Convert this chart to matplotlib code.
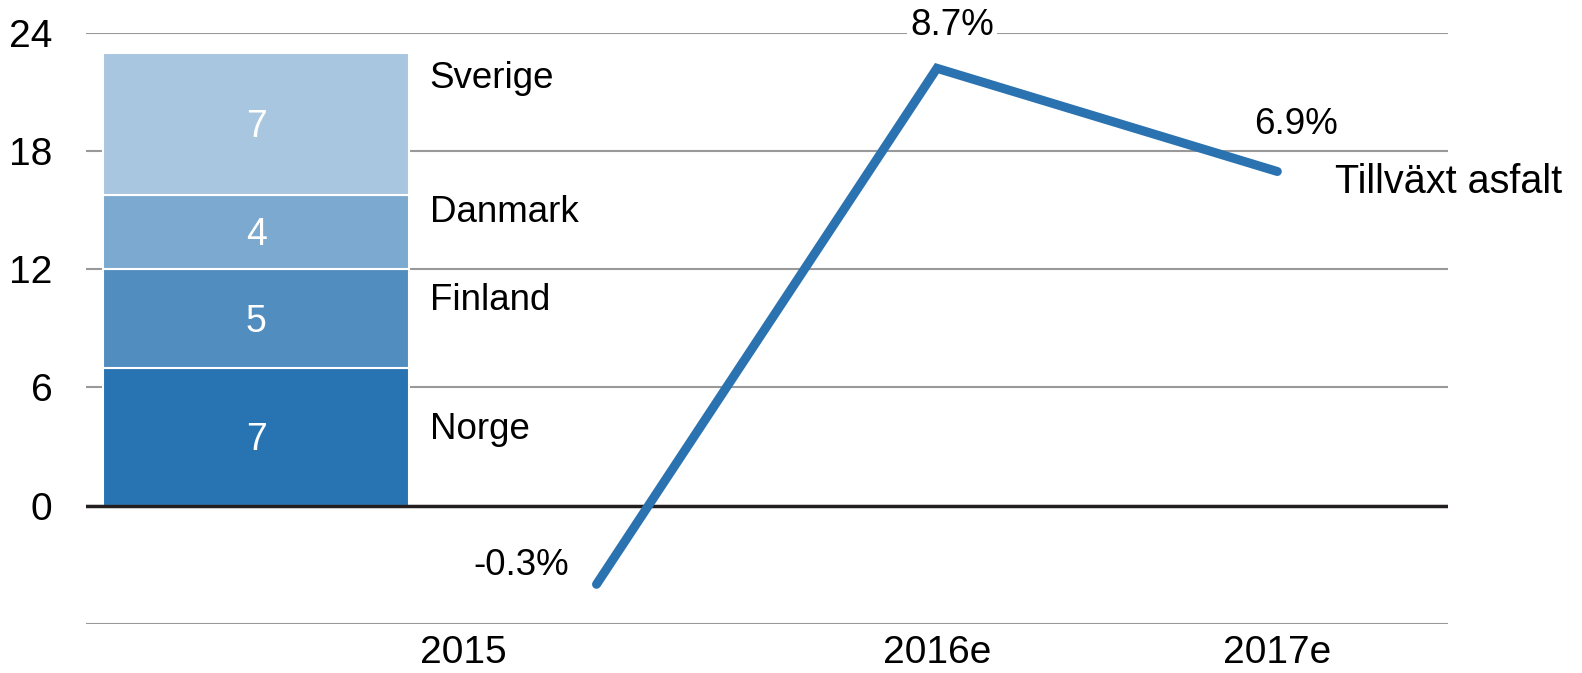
import numpy as np
import matplotlib.pyplot as plt

plt.rcParams['font.family'] = ['Liberation Sans', 'DejaVu Sans']

# data
countries = ['Norge', 'Finland', 'Danmark', 'Sverige']
volumes = [7.0, 5.0, 3.8, 7.2]
bar_colors = ['#2873b2', '#528dc0', '#7ba9d0', '#a8c6df']
years = ['2015', '2016e', '2017e']
growth = [-0.3, 8.7, 6.9]
series_name = 'Tillväxt asfalt'

fig = plt.figure(figsize=(15.82, 6.73), dpi=100)
ax = fig.add_axes([0.0543, 0.0734, 0.8607, 0.8771])

# stacked bar at x=0
bottom = 0
for name, v, c in zip(countries, volumes, bar_colors):
    ax.bar(0, v, bottom=bottom, width=0.9, color=c, edgecolor='white', linewidth=1.5, zorder=3)
    ax.text(0, bottom + v / 2 - 0.15, f'{v:.0f}', ha='center', va='center', color='white', fontsize=27, zorder=4)
    bottom += v

# country labels right of the bar
name_y = [3.85, 10.4, 14.9, 21.7]
for name, y in zip(countries, name_y):
    ax.text(0.51, y, name, ha='left', va='center', fontsize=26.5)

ax.set_xlim(-0.5, 3.5)
ax.set_ylim(-6, 24)
ax.set_yticks([-6, 0, 6, 12, 18, 24])
ax.set_yticklabels(['', '0', '6', '12', '18', '24'])
ax.grid(True, axis='y', color='#999999', linewidth=1.5, zorder=0)
ax.axhline(0, color='#231f20', linewidth=2.5, zorder=5)
for s in ax.spines.values():
    s.set_visible(False)
ax.tick_params(axis='y', length=0, pad=24, labelsize=28)
ax.set_xticks([0.61, 2, 3])
ax.set_xticklabels(years)
ax.tick_params(axis='x', length=0, pad=8, labelsize=28)

# growth line on hidden secondary axis
ax2 = ax.twinx()
ax2.set_ylim(-0.985, 9.31)
ax2.axis('off')
xs = np.arange(1, len(growth) + 1)
ax2.plot(xs, growth, color='#2a72b0', linewidth=6.5, solid_capstyle='round', solid_joinstyle='miter', zorder=6)

ax2.text(xs[0] - 0.08, growth[0] + 0.33, f'{growth[0]:.1f}%', ha='right', va='center', fontsize=26.5)
ax2.text(xs[1] + 0.045, growth[1] + 0.74, f'{growth[1]:.1f}%', ha='center', va='center', fontsize=26.5,
         bbox=dict(facecolor='white', edgecolor='none', pad=2))
ax2.text(xs[2] + 0.055, growth[2] + 0.82, f'{growth[2]:.1f}%', ha='center', va='center', fontsize=26.5)
ax2.text(xs[2] + 0.17, growth[2] - 0.19, series_name, ha='left', va='center', fontsize=28.5)

fig.savefig('out.png', dpi=100)
